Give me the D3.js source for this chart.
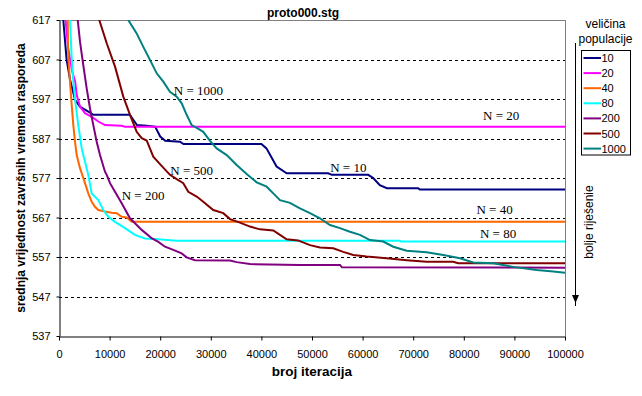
<!DOCTYPE html>
<html>
<head>
<meta charset="utf-8">
<script src="https://cdn.jsdelivr.net/npm/d3@7"></script>
<style>
  body { margin: 0; background: #fff; }
  svg { display: block; }
</style>
</head>
<body>
<script>
// chart values
var populations = ["10", "20", "40", "80", "200", "500", "1000"];
var lineColors = ["#000080", "#ff00ff", "#ff6600", "#00ffff", "#800080", "#800000", "#008080"];
var yTicks = [537, 547, 557, 567, 577, 587, 597, 607, 617];
var xTicks = [0, 10000, 20000, 30000, 40000, 50000, 60000, 70000, 80000, 90000, 100000];

// [iteration, mean final schedule time]
var n10 = [[400,625],[850,617],[1500,607],[2200,601.8],[3200,596.7],[4200,595],[5800,593.8],[6800,593],
  [14000,593],[15400,590.4],[17300,590.2],[19000,590],[20000,587.5],[21000,586.4],[23900,586.2],[24600,585.6],
  [40000,585.6],[41000,584.5],[43000,579.9],[45000,578.2],[53200,578.2],[53900,577.8],[61100,577.8],
  [62100,577],[63400,575.2],[64800,574.4],[71000,574.4],[71300,574.1],[100000,574.1]];
var n20 = [[900,625],[1300,617],[1800,610],[2600,604],[3200,601.4],[3500,598],[4150,595.1],[5140,593.4],
  [6460,592.5],[7770,591.3],[9090,590.4],[12400,590.2],[13000,590],[100000,590]];
var n40 = [[1500,625],[1720,617],[1840,607.3],[2170,601.4],[2510,595.5],[2830,590.4],[3160,586.2],
  [3500,582.8],[4150,579.5],[4490,578.2],[5140,575.7],[5790,573.1],[6460,571],[7110,569.7],[7770,568.9],
  [9090,568.5],[10410,568.2],[11400,568.1],[12390,567.2],[13380,567],[14370,565.9],[100000,565.9]];
var n80 = [[1900,625],[2170,617],[2510,607.3],[2830,601.4],[3300,595.5],[3810,590.4],[4490,584.5],
  [5140,581.1],[5790,577.8],[6460,573.1],[7770,571.4],[8750,568.9],[9740,567.2],[11070,565.9],
  [13040,564.3],[15020,562.6],[16990,561.7],[19620,561.5],[23260,561.1],[67380,561.1],[67580,560.9],[100000,560.9]];
var n200 = [[3300,625],[3700,617],[4150,611.5],[4800,605.6],[5470,599.7],[6130,594.6],[6780,590.4],
  [7450,586.2],[8100,582.8],[9090,578.6],[9430,577.8],[10080,575.7],[11070,573.5],[12390,570.6],
  [14030,566.8],[16400,563.8],[18380,561.7],[19560,560.9],[20950,559.6],[22590,558.8],[24250,557.9],
  [25230,556.9],[26870,556.2],[33790,556.1],[35110,555.7],[37740,555.2],[47620,555],[55530,555],
  [55920,554.4],[100000,554.3]];
var n500 = [[7400,625],[7960,617],[9430,611.1],[11070,605.2],[12710,597.6],[14030,593],[15350,588.7],
  [16340,587.1],[17330,586.5],[18630,582.4],[19960,580.5],[21930,577.8],[23260,576.7],[24560,575.7],
  [25550,573.5],[27210,572.3],[28510,571],[30490,568.9],[32470,568.1],[33790,566.6],[35770,565.7],
  [37740,564.7],[39720,564],[42350,563.7],[43670,562.6],[44990,561.5],[47230,561.2],[49600,560],
  [51570,559.4],[54200,559.2],[56180,558.3],[58150,557.5],[60800,557.1],[64750,556.7],[68710,556.2],
  [72660,555.8],[77910,555.8],[78900,555.4],[100000,555.4]];
var n1000 = [[12800,621],[13690,617],[15350,613.6],[16660,610.2],[17980,606.9],[19310,603.5],[20610,601.4],
  [21930,598.8],[23260,597.6],[24250,595.9],[25230,593],[26220,590.4],[27210,589.7],[28510,588.7],
  [29840,586.4],[31160,584.5],[33140,582.8],[35110,580.3],[37090,578],[39070,575.9],[41040,574.8],
  [42350,573.1],[43670,571.4],[45640,570.7],[47620,569.3],[49600,568.1],[51570,566.8],[53550,565.1],
  [55530,564.3],[57500,563.4],[59480,562.6],[61460,561.3],[64080,560.9],[66060,559.6],[68710,558.6],
  [72660,558.2],[75940,557.5],[79240,556.7],[81870,555.6],[85820,555.4],[89770,554.5],[94390,553.7],
  [97680,553.3],[100000,553]];
var seriesData = [n10, n20, n40, n80, n200, n500, n1000];

// text labels placed next to the curves
var curveLabels = [
  {text: "N = 1000", it: 22700, v: 598},
  {text: "N = 500", it: 22000, v: 577.8},
  {text: "N = 200", it: 12400, v: 571.4},
  {text: "N = 20", it: 83800, v: 591.7},
  {text: "N = 10", it: 53600, v: 578.5},
  {text: "N = 40", it: 82500, v: 567.8},
  {text: "N = 80", it: 83200, v: 561.7}
];

var svgWidth = 642;
var svgHeight = 396;
var plotLeft = 59, plotRight = 565, plotTop = 20, plotBottom = 336;

var svg = d3.select("body").append("svg")
  .attr("width", svgWidth)
  .attr("height", svgHeight)
  .style("font-family", "'Liberation Sans', Arial, sans-serif");

var xScale = d3.scaleLinear().domain([0, 100000]).range([plotLeft, plotRight]);
var yScale = d3.scaleLinear().domain([537, 617]).range([plotBottom, plotTop]);

// gridlines
svg.append("g")
  .selectAll("line")
  .data(yTicks.slice(1, -1))
  .enter().append("line")
  .attr("x1", plotLeft).attr("x2", plotRight)
  .attr("y1", function(d) { return Math.round(yScale(d)) + 0.5; })
  .attr("y2", function(d) { return Math.round(yScale(d)) + 0.5; })
  .attr("stroke", "#000")
  .attr("stroke-dasharray", "3,3");

// gray frame top and right
svg.append("line").attr("x1", plotLeft).attr("x2", plotRight + 0.5).attr("y1", plotTop + 0.5).attr("y2", plotTop + 0.5)
  .attr("stroke", "#808080");
svg.append("line").attr("x1", plotRight + 0.5).attr("x2", plotRight + 0.5).attr("y1", plotTop).attr("y2", plotBottom)
  .attr("stroke", "#808080");

svg.append("clipPath").attr("id", "plotclip")
  .append("rect").attr("x", plotLeft).attr("y", plotTop).attr("width", plotRight - plotLeft).attr("height", plotBottom - plotTop);

var line = d3.line()
  .x(function(d) { return xScale(d[0]); })
  .y(function(d) { return yScale(d[1]); });

svg.append("g").attr("clip-path", "url(#plotclip)")
  .selectAll("path")
  .data(seriesData)
  .enter().append("path")
  .attr("d", line)
  .attr("fill", "none")
  .attr("stroke-width", 2)
  .attr("stroke", function(d, i) { return lineColors[i]; });

// axes
var yAxis = svg.append("g")
  .attr("transform", "translate(" + (plotLeft + 0.5) + ",0)")
  .call(d3.axisLeft(yScale).tickValues(yTicks).tickSize(3).tickPadding(6).tickSizeOuter(0));
var xAxis = svg.append("g")
  .attr("transform", "translate(0," + (plotBottom + 0.5) + ")")
  .call(d3.axisBottom(xScale).tickValues(xTicks).tickFormat(d3.format("d")).tickSize(4).tickPadding(10).tickSizeOuter(0));

[yAxis, xAxis].forEach(function(ax) {
  ax.selectAll("text").attr("fill", "#000").style("font-size", "11px")
    .style("font-family", "'Liberation Sans', Arial, sans-serif");
  ax.selectAll("line").attr("stroke", "#000");
  ax.select(".domain").attr("stroke", "#000");
});

// curve labels
svg.append("g")
  .selectAll("text")
  .data(curveLabels)
  .enter().append("text")
  .attr("x", function(d) { return xScale(d.it); })
  .attr("y", function(d) { return yScale(d.v); })
  .style("font-family", "'Liberation Serif', 'Times New Roman', serif")
  .style("font-size", "13px")
  .text(function(d) { return d.text; });

// titles
svg.append("text")
  .attr("x", 303).attr("y", 16.5)
  .attr("text-anchor", "middle")
  .style("font-size", "12px").style("font-weight", "bold")
  .text("proto000.stg");

svg.append("text")
  .attr("x", 312).attr("y", 376)
  .attr("text-anchor", "middle")
  .style("font-size", "13.5px").style("font-weight", "bold")
  .text("broj iteracija");

svg.append("text")
  .attr("transform", "translate(25,178) rotate(-90)")
  .attr("text-anchor", "middle")
  .style("font-size", "12px").style("font-weight", "bold")
  .text("srednja vrijednost završnih vremena rasporeda");

// "better solution" arrow
svg.append("line")
  .attr("x1", 575.5).attr("x2", 575.5).attr("y1", 43).attr("y2", 306)
  .attr("stroke", "#000");
svg.append("path")
  .attr("d", "M572,295 L579,295 L575.5,303 Z")
  .attr("fill", "#000");
svg.append("text")
  .attr("transform", "translate(592.5,222) rotate(-90)")
  .attr("text-anchor", "middle")
  .style("font-size", "12px")
  .text("bolje riješenie");

// legend
svg.append("text").attr("x", 605.5).attr("y", 28).attr("text-anchor", "middle")
  .style("font-size", "12px").text("veličina");
svg.append("text").attr("x", 605.5).attr("y", 42.5).attr("text-anchor", "middle")
  .style("font-size", "12px").text("populacije");

svg.append("rect")
  .attr("x", 581.5).attr("y", 50.5).attr("width", 49).attr("height", 104.5)
  .attr("fill", "#fff").attr("stroke", "#000");

var legend = svg.selectAll(".legend")
  .data(populations)
  .enter().append("g")
  .attr("class", "legend")
  .attr("transform", function(d, i) { return "translate(0," + (58 + i * 15.1) + ")"; });

legend.append("line")
  .attr("x1", 583.5).attr("x2", 601)
  .attr("stroke-width", 2)
  .attr("stroke", function(d, i) { return lineColors[i]; });

legend.append("text")
  .attr("x", 601.5).attr("y", 4)
  .style("font-size", "11px")
  .text(function(d) { return d; });
</script>
</body>
</html>
